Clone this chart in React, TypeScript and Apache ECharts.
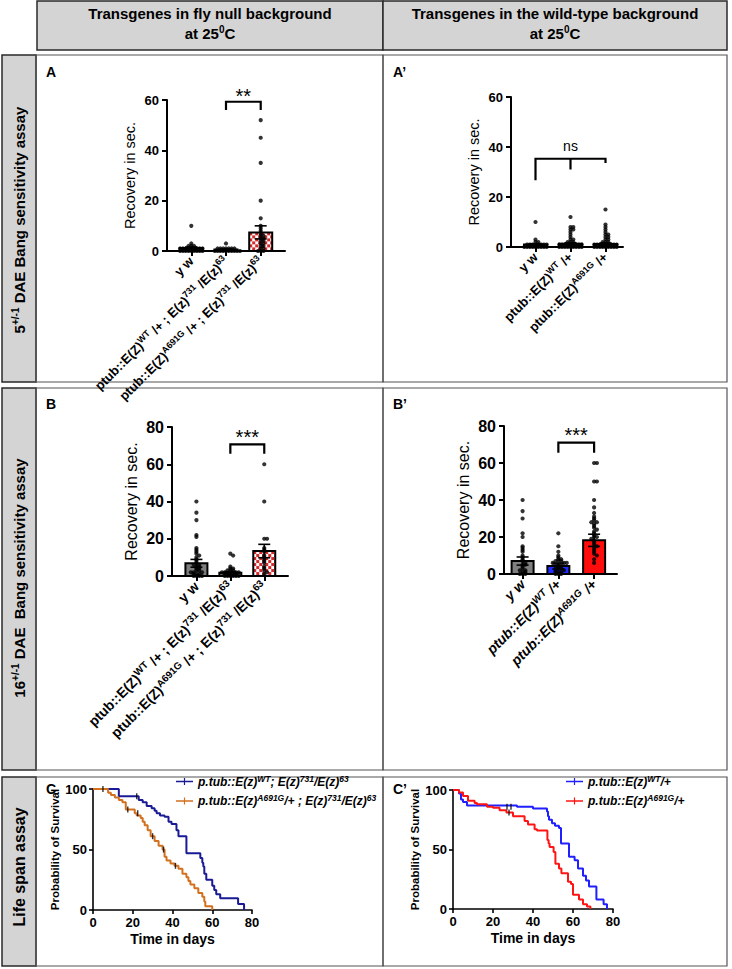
import React, { useEffect, useRef } from "react";
import * as echarts from "echarts";

// ---------------- data ----------------
const nullLabels = [
  "{n|y w}",
  "{n|ptub::E(Z)}{s|WT}{n| /+ ; E(z)}{s|731}{n| /E(z)}{s|63}",
  "{n|ptub::E(Z)}{s|A691G}{n| /+ ; E(z)}{s|731}{n| /E(z)}{s|63}",
];
const wtLabels = ["{n|y w}", "{n|ptub::E(Z)}{s|WT}{n| /+}", "{n|ptub::E(Z)}{s|A691G}{n| /+}"];

// Panel A (5 DAE, null background)
const meansA = [1.2, 0.6, 7.4];
const semsA = [0.4, 0.2, 2.6];
const ptsAyw = [10, 3, 2, 2, 2, 1, 1, 1, 1, 1, 1, 1, 1, 1, 0, 0, 0, 0, 0, 0, 0, 0, 0];
const ptsAwt = [3, 1, 1, 1, 1, 1, 1, 1, 0, 0, 0, 0, 0, 0, 0, 0, 0, 0];
const ptsAmut = [52, 45, 35, 20, 13, 10, 9, 8, 7, 6, 6, 5, 5, 4, 4, 3, 3, 2, 2, 1, 1, 0, 0, 0];

// Panel A' (5 DAE, wild-type background)
const meansAp = [1.0, 1.3, 1.2];
const semsAp = [0.3, 0.4, 0.4];
const ptsApyw = [10, 3, 2, 2, 1, 1, 1, 1, 1, 1, 1, 1, 0, 0, 0, 0, 0, 0, 0, 0, 0];
const ptsApwt = [12, 8, 8, 7, 7, 6, 5, 4, 3, 3, 2, 2, 2, 1, 1, 1, 1, 1, 1, 1, 1, 1, 0, 0, 0, 0, 0, 0, 0, 0, 0];
const ptsApmut = [15, 9, 8, 7, 6, 5, 5, 4, 4, 3, 3, 2, 2, 2, 1, 1, 1, 1, 1, 1, 1, 1, 1, 0, 0, 0, 0, 0, 0, 0, 0, 0];

// Panel B (16 DAE, null background)
const meansB = [6.8, 1.8, 13.4];
const semsB = [2.1, 0.6, 3.6];
const ptsByw = [40, 34, 30, 22, 21, 15, 14, 13, 12, 11, 10, 9, 8, 7, 6, 6, 5, 5, 4, 4, 3, 3, 2, 2, 2, 1, 1, 1, 0, 0, 0, 0];
const ptsBwt = [12, 11, 5, 4, 4, 3, 3, 3, 2, 2, 2, 2, 1, 1, 1, 1, 1, 0, 0, 0, 0, 0, 0];
const ptsBmut = [60, 40, 20, 20, 15, 14, 13, 11, 10, 9, 8, 7, 5, 4, 3, 2, 1];

// Panel B' (16 DAE, wild-type background)
const meansBp = [7.0, 4.3, 18.2];
const semsBp = [2.2, 1.6, 3.3];
const ptsBpyw = [40, 34, 30, 22, 20, 15, 14, 13, 12, 10, 9, 8, 7, 6, 5, 5, 4, 3, 2, 2, 1, 1, 0, 0, 0];
const ptsBpwt = [22, 15, 12, 10, 9, 8, 8, 7, 7, 7, 6, 6, 6, 5, 5, 5, 4, 4, 4, 3, 3, 2, 2, 1, 1, 1, 0, 0, 0];
const ptsBpmut = [60, 60, 50, 50, 40, 36, 33, 31, 30, 29, 28, 28, 27, 26, 25, 24, 23, 22, 21, 20, 20, 19, 18, 17, 16, 15, 14, 13, 12, 11, 10, 8, 6];

// Panel C survival (null background)
const cWtT = [0, 13, 23, 25, 27, 29.5, 31, 32, 33.7, 36, 38, 39.5, 42, 43, 47, 54, 55, 55.5, 56, 57, 60, 61, 62, 64, 73, 76];
const cWtS = [100, 94, 91, 89, 86, 84, 82, 80, 78, 77, 73, 71, 66, 61, 47, 43, 39, 36, 30, 25, 20, 16.6, 13, 9.7, 5, 0];
const cMutT = [0, 7.6, 9, 11, 13, 14.8, 16.5, 21, 22, 24, 25, 26, 27.5, 29, 31, 33, 35, 36, 37, 39, 41, 43, 45, 47, 48, 49, 51, 53, 55, 56, 56.5, 60];
const cMutS = [100, 97, 95, 93, 91, 89, 83, 80, 78, 76, 73, 70, 66, 61, 57, 53, 50, 44, 41, 38.5, 36.5, 34, 30, 27, 24, 21, 18, 14, 11, 7, 3, 0];
const cWtCens = [[5, 100], [22, 94]];
const cMutCens = [[17.5, 83], [22.5, 80], [30, 61], [35.5, 50], [41.5, 36.5]];

// Panel C' survival (wild-type background)
const cpWtT = [0, 3, 4, 5, 7, 32, 40, 47, 47.5, 48, 49.5, 51, 53, 54, 58, 60.8, 62.5, 65, 66.5, 68, 71.7, 75.3, 77];
const cpWtS = [100, 97, 92, 90, 87, 86, 84.5, 82, 78, 75, 72, 70, 68, 55, 44, 41, 34, 28, 24, 19, 8, 4, 0];
const cpMutT = [0, 3, 5, 7.5, 10.8, 12, 17, 20, 23.3, 26.7, 30, 35.8, 37.5, 40.8, 42, 47.2, 47.8, 48.3, 50.3, 51.2, 53, 54.2, 57.5, 59, 60, 63, 65, 67, 68.7];
const cpMutS = [100, 98, 95, 91, 89, 88, 86, 85, 83, 81, 78, 74, 71, 67, 66, 58, 55, 52, 48, 38, 34, 30, 23, 21, 12, 8, 4, 2, 0];
const cpWtCens = [[27, 86], [29, 86]];
const cpMutCens = [[28, 81]];

const legendC = {
  cWt: "{n|p.tub::E(z)}{s|WT}{n|; E(z)}{s|731}{n|/E(z)}{s|63}",
  cMut: "{n|p.tub::E(z)}{s|A691G}{n|/+ ; E(z)}{s|731}{n|/E(z)}{s|63}",
};
const legendCp = {
  cpWt: "{n|p.tub::E(z)}{s|WT}{n|/+}",
  cpMut: "{n|p.tub::E(z)}{s|A691G}{n|/+}",
};

// ---------------- layout / style ----------------
const FONT = "'Liberation Sans', Arial, Helvetica, sans-serif";

type Bracket = { x1: number; x2: number; top: number; legs: number[]; mid?: number; text: string; textY: number; textSize: number; textBold: boolean };
type Panel = {
  grid: { left: number; top: number; width: number; height: number };
  xMin: number; xMax: number; yMax: number; yStep: number;
  labels: string[]; italic: boolean; labelSize: number;
  means: number[]; sems: number[]; points: number[][];
  fills: string[]; barWidth: number; tickSize: number; titleSize: number; nameGap: number;
  bracket: Bracket;
};

const panels: Panel[] = [
  {
    grid: { left: 167, top: 100, width: 118, height: 151 }, xMin: -0.7, xMax: 2.7, yMax: 60, yStep: 20,
    labels: nullLabels, italic: false, labelSize: 13,
    means: meansA, sems: semsA, points: [ptsAyw, ptsAwt, ptsAmut],
    fills: ["#7f7f7f", "#7f7f7f", "checker"], barWidth: 23, tickSize: 13, titleSize: 14.5, nameGap: 30,
    bracket: { x1: 1, x2: 2, top: 59.3, legs: [56, 56], text: "**", textY: 61.5, textSize: 20, textBold: false },
  },
  {
    grid: { left: 511, top: 97, width: 112, height: 150 }, xMin: -0.7, xMax: 2.5, yMax: 60, yStep: 20,
    labels: wtLabels, italic: false, labelSize: 13,
    means: meansAp, sems: semsAp, points: [ptsApyw, ptsApwt, ptsApmut],
    fills: ["#7f7f7f", "#1c1c8c", "#7f7f7f"], barWidth: 23, tickSize: 13, titleSize: 14.5, nameGap: 30,
    bracket: { x1: 0, x2: 2, top: 35.3, legs: [26.7, 33.6], mid: 31, text: "ns", textY: 40.5, textSize: 14, textBold: false },
  },
  {
    grid: { left: 172, top: 427, width: 116, height: 149 }, xMin: -0.72, xMax: 2.7, yMax: 80, yStep: 20,
    labels: nullLabels, italic: false, labelSize: 14,
    means: meansB, sems: semsB, points: [ptsByw, ptsBwt, ptsBmut],
    fills: ["#7f7f7f", "#7f7f7f", "checker"], barWidth: 22, tickSize: 16, titleSize: 16, nameGap: 33,
    bracket: { x1: 1, x2: 2, top: 70.7, legs: [65.7, 65.7], text: "***", textY: 74.5, textSize: 20, textBold: false },
  },
  {
    grid: { left: 504, top: 426, width: 113, height: 148 }, xMin: -0.52, xMax: 2.64, yMax: 80, yStep: 20,
    labels: wtLabels, italic: true, labelSize: 14,
    means: meansBp, sems: semsBp, points: [ptsBpyw, ptsBpwt, ptsBpmut],
    fills: ["#7f7f7f", "#1f2bff", "#ff0d0d"], barWidth: 22, tickSize: 16, titleSize: 16, nameGap: 33,
    bracket: { x1: 1, x2: 2, top: 71, legs: [65.5, 65.5], text: "***", textY: 75, textSize: 20, textBold: false },
  },
];

const survGrids = [
  { left: 93, top: 789, width: 159, height: 121 },
  { left: 453, top: 790, width: 160, height: 119 },
];

function swarm(vals: number[], pxPerVal: number, pxPerCat: number, cat: number) {
  const counts: Record<number, number> = {};
  return vals.map((v) => {
    const row = Math.round((v * pxPerVal) / 2.4);
    const k = counts[row] || 0;
    counts[row] = k + 1;
    const off = k === 0 ? 0 : (k % 2 === 1 ? 1 : -1) * Math.ceil(k / 2) * 2.8;
    return [cat + off / pxPerCat, v];
  });
}

function kmSteps(T: number[], S: number[]) {
  const out: number[][] = [];
  for (let i = 0; i < T.length; i++) {
    out.push([T[i], S[i]]);
    if (i + 1 < T.length) out.push([T[i + 1], S[i]]);
  }
  return out;
}

function richFor(size: number, italic: boolean) {
  const st = italic ? "italic" : "normal";
  return {
    n: { fontSize: size, fontWeight: "bold", fontStyle: st, fontFamily: FONT, color: "#000", lineHeight: size + 3 },
    s: { fontSize: Math.round(size * 0.7), fontWeight: "bold", fontStyle: st, fontFamily: FONT, color: "#000", lineHeight: Math.round(size * 0.75), verticalAlign: "top" },
  };
}

function buildOption() {
  const grid: any[] = [];
  const xAxis: any[] = [];
  const yAxis: any[] = [];
  const series: any[] = [];

  panels.forEach((p, idx) => {
    grid.push({ ...p.grid, containLabel: false });
    const pxPerCat = p.grid.width / (p.xMax - p.xMin);
    const pxPerVal = p.grid.height / p.yMax;
    xAxis.push({
      gridIndex: idx, type: "value", min: p.xMin, max: p.xMax,
      axisLine: { show: true, onZero: false, lineStyle: { color: "#000", width: 2 } },
      axisTick: { show: true, customValues: [0, 1, 2], length: 5, lineStyle: { color: "#000", width: 2 } },
      axisLabel: {
        show: true, customValues: [0, 1, 2], rotate: 45, margin: 8,
        formatter: (v: number) => p.labels[Math.round(v)],
        rich: richFor(p.labelSize, p.italic),
      },
      splitLine: { show: false },
    });
    yAxis.push({
      gridIndex: idx, type: "value", min: 0, max: p.yMax, interval: p.yStep,
      axisLine: { show: true, onZero: false, lineStyle: { color: "#000", width: 2 } },
      axisTick: { show: true, length: 5, lineStyle: { color: "#000", width: 2 } },
      axisLabel: { fontSize: p.tickSize, fontWeight: "bold", color: "#000", fontFamily: FONT, margin: 8 },
      splitLine: { show: false },
      name: "Recovery in sec.", nameLocation: "middle", nameGap: p.nameGap,
      nameTextStyle: { fontSize: p.titleSize, color: "#000", fontFamily: FONT },
    });

    // bars
    series.push({
      type: "custom", coordinateSystem: "cartesian2d", xAxisIndex: idx, yAxisIndex: idx, z: 2, silent: true,
      data: p.means.map((m, i) => [i, m, p.sems[i]]),
      renderItem: (params: any, api: any) => {
        const i = api.value(0);
        const m = api.value(1);
        const base = api.coord([i, 0]);
        const tp = api.coord([i, m]);
        const bw = p.barWidth;
        const left = base[0] - bw / 2;
        const top = tp[1];
        const bottom = base[1];
        const h = bottom - top;
        const fill = p.fills[i];
        const children: any[] = [];
        if (fill === "checker") {
          children.push({ type: "rect", shape: { x: left, y: top, width: bw, height: h }, style: { fill: "#ffffff" } });
          const c = 3;
          let iy = 0;
          for (let yy = top; yy < bottom - 0.01; yy += c, iy++) {
            let ix = 0;
            for (let xx = left; xx < left + bw - 0.01; xx += c, ix++) {
              if ((ix + iy) % 2 === 0) {
                children.push({
                  type: "rect",
                  shape: { x: xx, y: yy, width: Math.min(c, left + bw - xx), height: Math.min(c, bottom - yy) },
                  style: { fill: "#d42a2a" },
                });
              }
            }
          }
        } else {
          children.push({ type: "rect", shape: { x: left, y: top, width: bw, height: h }, style: { fill } });
        }
        children.push({ type: "rect", shape: { x: left, y: top, width: bw, height: h }, style: { fill: "none", stroke: "#000", lineWidth: 2 } });
        return { type: "group", children };
      },
    });

    // points
    const pts: number[][] = [];
    p.points.forEach((vals, cat) => swarm(vals, pxPerVal, pxPerCat, cat).forEach((q) => pts.push(q)));
    series.push({
      type: "scatter", xAxisIndex: idx, yAxisIndex: idx, z: 3, silent: true,
      data: pts, symbol: "circle", symbolSize: 4.2, itemStyle: { color: "#000" },
    });

    // error bars
    series.push({
      type: "custom", coordinateSystem: "cartesian2d", xAxisIndex: idx, yAxisIndex: idx, z: 4, silent: true,
      data: p.means.map((m, i) => [i, m, p.sems[i]]),
      renderItem: (params: any, api: any) => {
        const i = api.value(0);
        const m = api.value(1);
        const s = api.value(2);
        const hi = api.coord([i, m + s]);
        const lo = api.coord([i, Math.max(0, m - s)]);
        const cw = 6;
        const st = { stroke: "#000", lineWidth: 1.6 };
        return {
          type: "group",
          children: [
            { type: "line", shape: { x1: hi[0], y1: hi[1], x2: lo[0], y2: lo[1] }, style: st },
            { type: "line", shape: { x1: hi[0] - cw, y1: hi[1], x2: hi[0] + cw, y2: hi[1] }, style: st },
            { type: "line", shape: { x1: lo[0] - cw, y1: lo[1], x2: lo[0] + cw, y2: lo[1] }, style: st },
          ],
        };
      },
    });

    // significance bracket
    const b = p.bracket;
    series.push({
      type: "custom", coordinateSystem: "cartesian2d", xAxisIndex: idx, yAxisIndex: idx, z: 5, silent: true, clip: false,
      data: [[b.x1, b.top]],
      renderItem: (params: any, api: any) => {
        const a = api.coord([b.x1, b.top]);
        const c = api.coord([b.x2, b.top]);
        const la = api.coord([b.x1, b.legs[0]]);
        const lc = api.coord([b.x2, b.legs[1]]);
        const st = { stroke: "#000", lineWidth: 2.2 };
        const children: any[] = [
          { type: "polyline", shape: { points: [[la[0], la[1]], [a[0], a[1]], [c[0], c[1]], [lc[0], lc[1]]] }, style: { ...st, fill: "none" } },
        ];
        const xm = (b.x1 + b.x2) / 2;
        if (b.mid !== undefined) {
          const m0 = api.coord([xm, b.top]);
          const m1 = api.coord([xm, b.mid]);
          children.push({ type: "line", shape: { x1: m0[0], y1: m0[1], x2: m1[0], y2: m1[1] }, style: st });
        }
        const tpos = api.coord([xm, b.textY]);
        children.push({
          type: "text",
          style: {
            text: b.text, x: tpos[0], y: tpos[1], align: "center", verticalAlign: "middle",
            fontSize: b.textSize, fontWeight: b.textBold ? "bold" : "normal", fontFamily: FONT, fill: "#000",
          },
        });
        return { type: "group", children };
      },
    });
  });

  // survival panels
  const survDefs = [
    {
      grid: survGrids[0],
      lines: [
        { name: "cWt", T: cWtT, S: cWtS, color: "#1a1a96", cens: cWtCens },
        { name: "cMut", T: cMutT, S: cMutS, color: "#d2701e", cens: cMutCens },
      ],
    },
    {
      grid: survGrids[1],
      lines: [
        { name: "cpWt", T: cpWtT, S: cpWtS, color: "#1f1fff", cens: cpWtCens },
        { name: "cpMut", T: cpMutT, S: cpMutS, color: "#ff1414", cens: cpMutCens },
      ],
    },
  ];
  survDefs.forEach((d, k) => {
    const idx = panels.length + k;
    grid.push({ ...d.grid, containLabel: false });
    xAxis.push({
      gridIndex: idx, type: "value", min: 0, max: 80, interval: 20,
      axisLine: { show: true, onZero: false, lineStyle: { color: "#000", width: 1.6 } },
      axisTick: { show: true, length: 4, lineStyle: { color: "#000", width: 1.6 } },
      axisLabel: { fontSize: 13, fontWeight: "bold", color: "#000", fontFamily: FONT, margin: 6 },
      splitLine: { show: false },
      name: "Time in days", nameLocation: "middle", nameGap: 22,
      nameTextStyle: { fontSize: 14, fontWeight: "bold", color: "#000", fontFamily: FONT },
    });
    yAxis.push({
      gridIndex: idx, type: "value", min: 0, max: 100, interval: 50,
      axisLine: { show: true, onZero: false, lineStyle: { color: "#000", width: 1.6 } },
      axisTick: { show: true, length: 4, lineStyle: { color: "#000", width: 1.6 } },
      axisLabel: { fontSize: 13, fontWeight: "bold", color: "#000", fontFamily: FONT, margin: 6 },
      splitLine: { show: false },
      name: "Probability of Survival", nameLocation: "middle", nameGap: 31,
      nameTextStyle: { fontSize: 11.5, fontWeight: "bold", color: "#000", fontFamily: FONT },
    });
    d.lines.forEach((ln) => {
      series.push({
        type: "line", name: ln.name, xAxisIndex: idx, yAxisIndex: idx, z: 3, silent: true,
        data: kmSteps(ln.T, ln.S), showSymbol: false, symbol: "none",
        lineStyle: { color: ln.color, width: 2 }, itemStyle: { color: ln.color },
      });
      series.push({
        type: "scatter", xAxisIndex: idx, yAxisIndex: idx, z: 4, silent: true,
        data: ln.cens, symbol: "rect", symbolSize: [1.4, 6], itemStyle: { color: "#000" },
      });
    });
  });

  const legIcon = "path://M0,3.2H20V4.8H0Z M9.3,0H10.7V8H9.3Z";
  const legRich = {
    n: { fontSize: 12, fontWeight: "bold", fontStyle: "italic", fontFamily: FONT, color: "#000", lineHeight: 15 },
    s: { fontSize: 8.5, fontWeight: "bold", fontStyle: "italic", fontFamily: FONT, color: "#000", lineHeight: 9, verticalAlign: "top" },
  };
  const legend = [
    {
      data: ["cWt", "cMut"], left: 171, top: 769, orient: "vertical", itemWidth: 17, itemHeight: 7, itemGap: 6,
      icon: legIcon, formatter: (n: string) => (legendC as any)[n], textStyle: { rich: legRich }, selectedMode: false,
    },
    {
      data: ["cpWt", "cpMut"], left: 561, top: 769, orient: "vertical", itemWidth: 17, itemHeight: 7, itemGap: 6,
      icon: legIcon, formatter: (n: string) => (legendCp as any)[n], textStyle: { rich: legRich }, selectedMode: false,
    },
  ];

  const gray = "#d4d4d4";
  const dark = "#2a2a2a";
  const headFont = { fontSize: 15, fontWeight: "bold", fontFamily: FONT, fill: "#000" };
  const headRich = { s: { fontSize: 10, fontWeight: "bold", fontFamily: FONT, verticalAlign: "top", lineHeight: 10 }, n: { fontSize: 15, fontWeight: "bold", fontFamily: FONT, lineHeight: 17 } };
  const sideRich = { s: { fontSize: 10, fontWeight: "bold", fontFamily: FONT, verticalAlign: "top", lineHeight: 10 }, n: { fontSize: 15, fontWeight: "bold", fontFamily: FONT, lineHeight: 17 } };
  const letter = (t: string, x: number, y: number) => ({
    type: "text", x, y, style: { text: t, fontSize: 14, fontWeight: "bold", fontFamily: FONT, fill: "#000", align: "left", verticalAlign: "middle" },
  });
  const rows = [
    { top: 55, bottom: 382 },
    { top: 388, bottom: 770 },
    { top: 777, bottom: 966 },
  ];
  const graphic: any[] = [
    { type: "rect", shape: { x: 37, y: 1, width: 346, height: 49 }, style: { fill: gray, stroke: dark, lineWidth: 1.5 } },
    { type: "rect", shape: { x: 383, y: 1, width: 344, height: 49 }, style: { fill: gray, stroke: dark, lineWidth: 1.5 } },
    { type: "text", x: 210, y: 13, style: { text: "Transgenes in fly null background", ...headFont, align: "center", verticalAlign: "middle" } },
    { type: "text", x: 210, y: 33, style: { text: "{n|at 25}{s|0}{n|C}", rich: headRich, ...headFont, align: "center", verticalAlign: "middle" } },
    { type: "text", x: 555, y: 13, style: { text: "Transgenes in the wild-type background", ...headFont, align: "center", verticalAlign: "middle" } },
    { type: "text", x: 555, y: 33, style: { text: "{n|at 25}{s|0}{n|C}", rich: headRich, ...headFont, align: "center", verticalAlign: "middle" } },
  ];
  rows.forEach((r) => {
    graphic.push({ type: "rect", shape: { x: 2, y: r.top, width: 34, height: r.bottom - r.top }, style: { fill: gray, stroke: dark, lineWidth: 1.5 } });
    graphic.push({ type: "rect", shape: { x: 36, y: r.top, width: 347, height: r.bottom - r.top }, style: { fill: "none", stroke: "#555", lineWidth: 1.2 } });
    graphic.push({ type: "rect", shape: { x: 383, y: r.top, width: 344, height: r.bottom - r.top }, style: { fill: "none", stroke: "#555", lineWidth: 1.2 } });
  });
  graphic.push({ type: "text", x: 19, y: 220, rotation: Math.PI / 2, style: { text: "{n|5}{s|+/-1}{n| DAE Bang sensitivity assay}", rich: sideRich, fontSize: 15, fontWeight: "bold", fontFamily: FONT, fill: "#000", align: "center", verticalAlign: "middle" } });
  graphic.push({ type: "text", x: 19, y: 578, rotation: Math.PI / 2, style: { text: "{n|16}{s|+/-1}{n| DAE  Bang sensitivity assay}", rich: sideRich, fontSize: 15, fontWeight: "bold", fontFamily: FONT, fill: "#000", align: "center", verticalAlign: "middle" } });
  graphic.push({ type: "text", x: 19, y: 867, rotation: Math.PI / 2, style: { text: "Life span assay", fontSize: 16, fontWeight: "bold", fontFamily: FONT, fill: "#000", align: "center", verticalAlign: "middle" } });
  graphic.push(letter("A", 46, 72));
  graphic.push(letter("A\u2019", 393, 72));
  graphic.push(letter("B", 46, 404));
  graphic.push(letter("B\u2019", 393, 404));
  graphic.push(letter("C", 46, 789));
  graphic.push(letter("C\u2019", 393, 789));

  return {
    animation: false,
    backgroundColor: "#ffffff",
    textStyle: { fontFamily: FONT },
    grid, xAxis, yAxis, series, legend, graphic,
  };
}

export default function App() {
  const ref = useRef<HTMLDivElement>(null);
  useEffect(() => {
    if (!ref.current) return;
    const chart = echarts.init(ref.current, null, { renderer: "svg", width: 732, height: 969 });
    chart.setOption(buildOption() as any);
    return () => chart.dispose();
  }, []);
  return <div ref={ref} style={{ position: "absolute", left: 0, top: 0, width: 732, height: 969 }} />;
}
